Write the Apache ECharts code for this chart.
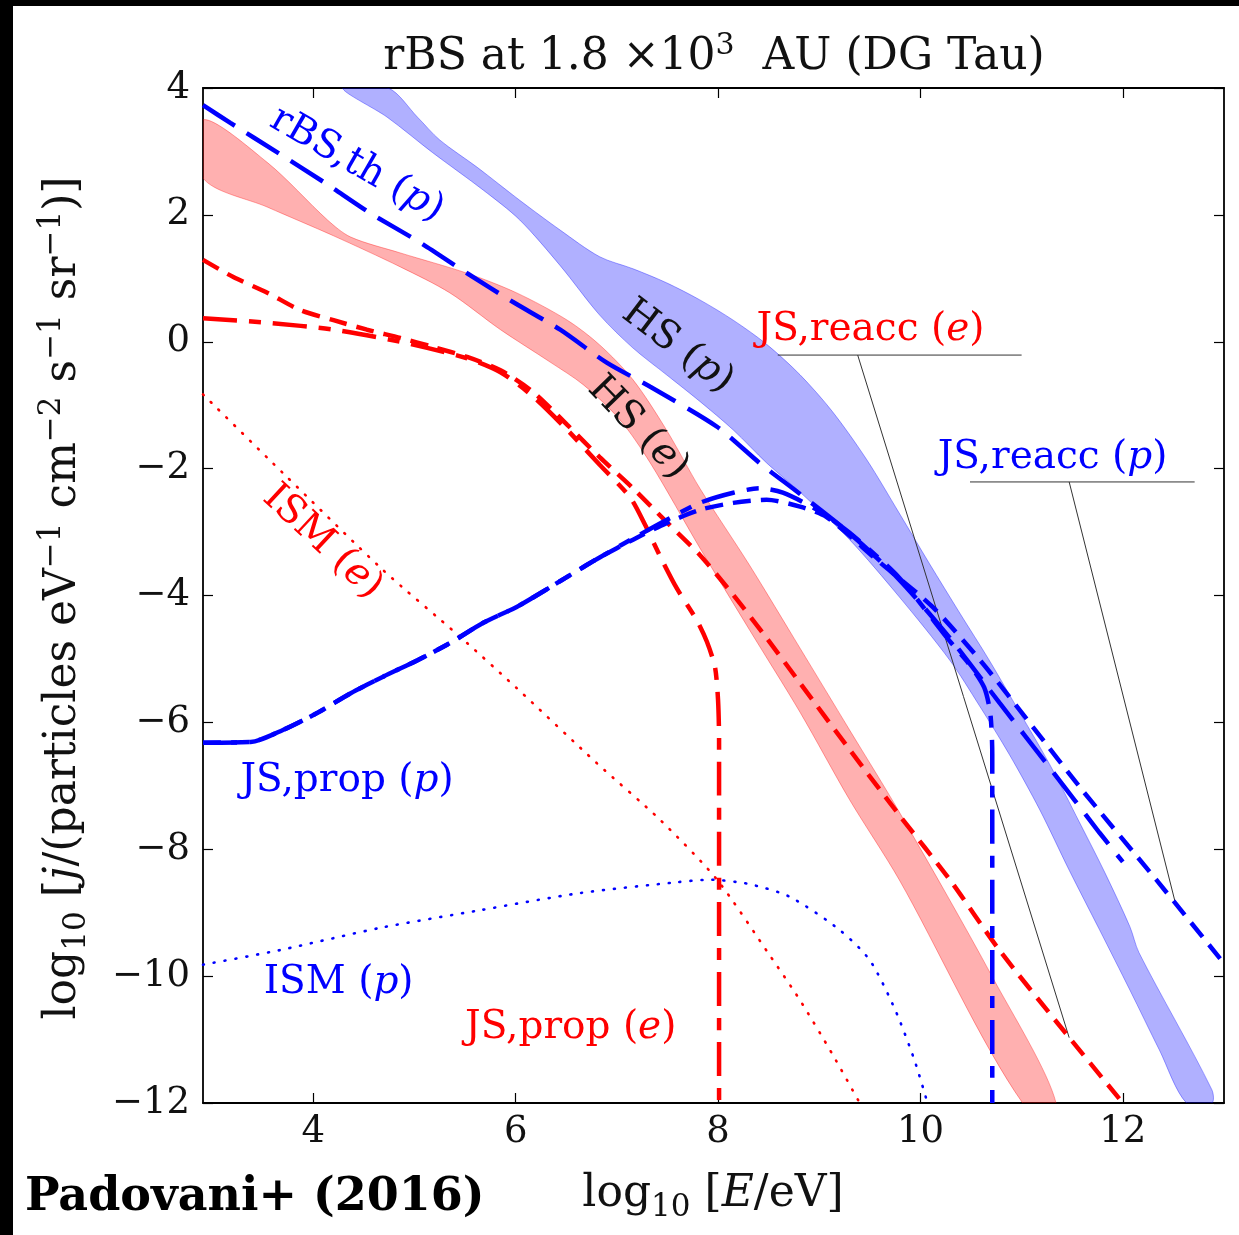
<!DOCTYPE html>
<html>
<head>
<meta charset="utf-8">
<style>
html, body { margin: 0; padding: 0; background: #fff; }
#chart { width: 1239px; height: 1235px; }
</style>
<script src="https://cdn.jsdelivr.net/npm/echarts@6/dist/echarts.min.js"></script>
</head>
<body>
<div id="chart"></div>
<script>
// x = log10(E/eV), y = log10(j)
var xMin = 2.91, xMax = 13;
var xTicks = [4, 6, 8, 10, 12];
var yTicks = [-12, -10, -8, -6, -4, -2, 0, 2, 4];

// HS bands (upper / lower edges)
var hsProtonUpper = [[4.74,4.0],[5.03,3.54],[5.25,3.18],[5.62,2.75],[6.04,2.23],[6.44,1.76],[6.83,1.34],[7.16,1.15],[7.49,0.93],[7.82,0.66],[8.15,0.34],[8.48,-0.04],[8.81,-0.52],[9.13,-1.10],[9.47,-1.86],[9.79,-2.70],[10.09,-3.50],[10.39,-4.28],[10.68,-5.02],[10.98,-5.84],[11.28,-6.67],[11.57,-7.57],[11.82,-8.36],[12.07,-9.22],[12.16,-9.63],[12.88,-11.79],[12.88,-12.0]];
var hsProtonLower = [[4.29,4.0],[4.73,3.54],[5.18,2.98],[5.68,2.39],[6.04,1.92],[6.44,1.20],[6.83,0.42],[7.16,-0.10],[7.49,-0.52],[7.82,-0.94],[8.15,-1.39],[8.48,-1.91],[8.81,-2.37],[9.30,-3.12],[9.79,-4.02],[10.29,-5.02],[10.58,-5.73],[10.88,-6.51],[11.18,-7.38],[11.47,-8.33],[11.77,-9.27],[12.07,-10.22],[12.36,-11.16],[12.63,-12.0]];
var hsElectronUpper = [[2.91,3.50],[3.55,2.82],[4.14,1.92],[4.37,1.65],[4.86,1.40],[5.52,1.08],[6.01,0.77],[6.51,0.34],[6.83,-0.05],[7.16,-0.60],[7.49,-1.39],[7.82,-2.31],[8.31,-3.52],[8.81,-4.83],[9.30,-6.12],[9.79,-7.41],[10.71,-10.01],[11.34,-12.0]];
var hsElectronLower = [[2.91,2.58],[3.55,2.12],[4.20,1.67],[4.86,1.18],[5.35,0.77],[5.85,0.19],[6.34,-0.32],[6.67,-0.68],[7.03,-1.23],[7.33,-1.91],[7.82,-3.25],[8.31,-4.54],[8.81,-5.84],[9.30,-7.22],[9.79,-8.48],[11.01,-12.0]];

// curves
var rbsThP = [[2.91,3.73],[3.18,3.45],[3.64,2.99],[4.12,2.50],[4.56,2.03],[5.06,1.56],[5.52,1.08],[5.97,0.63],[6.44,0.19],[6.90,-0.33],[7.33,-0.71],[7.99,-1.34],[8.41,-1.91],[8.81,-2.40],[9.30,-3.02],[9.79,-3.75],[10.29,-4.67],[10.78,-5.69],[11.28,-6.72],[11.77,-7.74],[12.00,-8.20]];
var jsPropP = [[2.91,-6.32],[3.38,-6.31],[3.70,-6.12],[4.04,-5.85],[4.37,-5.54],[4.69,-5.28],[5.03,-5.02],[5.35,-4.75],[5.68,-4.43],[6.01,-4.18],[6.34,-3.87],[6.67,-3.55],[6.83,-3.40],[7.16,-3.10],[7.49,-2.81],[7.82,-2.54],[8.15,-2.38],[8.41,-2.31],[8.64,-2.38],[8.98,-2.65],[9.30,-3.01],[9.79,-3.72],[10.29,-4.72],[10.50,-5.12],[10.63,-5.45],[10.69,-5.85],[10.71,-6.5],[10.71,-12.0]];
var jsReaccP = [[2.91,-6.32],[3.38,-6.31],[3.70,-6.12],[4.04,-5.85],[4.37,-5.54],[4.69,-5.28],[5.03,-5.02],[5.35,-4.75],[5.68,-4.43],[6.01,-4.18],[6.34,-3.87],[6.67,-3.55],[6.83,-3.40],[7.16,-3.12],[7.49,-2.86],[7.82,-2.65],[8.15,-2.54],[8.48,-2.49],[8.81,-2.60],[9.07,-2.76],[9.57,-3.44],[10.12,-4.18],[10.61,-5.06],[11.11,-6.07],[11.60,-7.07],[12.33,-8.48],[12.99,-9.78]];
var jsReaccE = [[2.91,1.29],[3.21,1.02],[3.55,0.77],[3.87,0.50],[4.20,0.34],[4.53,0.19],[4.86,0.06],[5.18,-0.08],[5.52,-0.24],[5.85,-0.45],[6.17,-0.79],[6.51,-1.31],[6.83,-1.82],[7.16,-2.31],[7.49,-2.84],[7.82,-3.36],[8.15,-3.99],[8.48,-4.67],[8.81,-5.38],[9.30,-6.43],[9.79,-7.46],[10.29,-8.48],[10.78,-9.59],[11.37,-10.77],[12.0,-12.0]];
var jsPropE = [[2.91,0.37],[3.55,0.30],[4.20,0.19],[4.86,0.0],[5.52,-0.26],[5.85,-0.48],[6.17,-0.86],[6.51,-1.39],[6.83,-1.94],[7.13,-2.45],[7.28,-2.89],[7.43,-3.39],[7.59,-3.88],[7.79,-4.39],[7.89,-4.73],[7.97,-5.13],[8.00,-5.65],[8.01,-6.28],[8.01,-12.0]];
var ismE = [[2.91,-0.83],[3.70,-2.07],[4.69,-3.60],[5.45,-4.65],[6.01,-5.46],[6.80,-6.64],[7.43,-7.54],[7.99,-8.48],[8.51,-9.67],[8.81,-10.38],[9.13,-11.23],[9.40,-12.0]];
var ismP = [[2.91,-9.82],[3.67,-9.59],[4.66,-9.24],[5.65,-8.96],[6.64,-8.69],[7.59,-8.52],[7.92,-8.48],[8.31,-8.55],[8.71,-8.75],[9.20,-9.27],[9.50,-9.75],[9.75,-10.53],[9.94,-11.32],[10.07,-12.0]];

// label leader lines
var reaccELine = [[8.59,-0.21],[11.0,-0.21]];
var reaccEPointer = [[9.38,-0.21],[11.47,-10.97]];
var reaccPLine = [[10.49,-2.21],[12.71,-2.21]];
var reaccPPointer = [[11.47,-2.21],[12.52,-8.85]];

var BLUE = '#0000ff', RED = '#ff0000';
var FONT = '"DejaVu Serif", "Liberation Serif", serif';
var LABEL_SIZE = 39;

var chart = echarts.init(document.getElementById('chart'));

function band(upper, lower, fill, edge) {
  return {
    type: 'custom',
    coordinateSystem: 'cartesian2d',
    data: [[xMin, -12]],
    silent: true,
    clip: true,
    z: 1,
    renderItem: function (params, api) {
      var pts = [];
      upper.forEach(function (p) { pts.push(api.coord(p)); });
      lower.slice().reverse().forEach(function (p) { pts.push(api.coord(p)); });
      return {
        type: 'polygon',
        shape: { points: pts, smooth: 0.3 },
        style: { fill: fill, stroke: edge, lineWidth: 1 }
      };
    }
  };
}

function curve(data, color, dash, width, cap) {
  return {
    type: 'line',
    data: data,
    symbol: 'none',
    smooth: 0.25,
    silent: true,
    clip: true,
    z: 3,
    lineStyle: { color: color, width: width, type: dash, cap: cap || 'butt' }
  };
}

function thin(data) {
  return {
    type: 'line', data: data, symbol: 'none', silent: true, z: 2,
    lineStyle: { color: '#333', width: 1 }
  };
}

var frameLine = { show: true, onZero: false, lineStyle: { color: '#000', width: 1.8 } };
var tickStyle = { color: '#000', width: 1.2 };

option = {
  animation: false,
  backgroundColor: '#fff',
  textStyle: { fontFamily: FONT },
  grid: { left: 203, right: 15, top: 88, bottom: 132 },
  xAxis: [
    {
      type: 'value', min: xMin, max: xMax, position: 'bottom',
      axisLine: frameLine, splitLine: { show: false },
      axisTick: { show: true, inside: true, length: 10, customValues: xTicks, lineStyle: tickStyle },
      axisLabel: { customValues: xTicks, color: '#111', fontFamily: FONT, fontSize: 37, margin: 11 }
    },
    {
      type: 'value', min: xMin, max: xMax, position: 'top',
      axisLine: frameLine, splitLine: { show: false },
      axisTick: { show: true, inside: true, length: 10, customValues: xTicks, lineStyle: tickStyle },
      axisLabel: { show: false }
    }
  ],
  yAxis: [
    {
      type: 'value', min: -12, max: 4, interval: 2, position: 'left',
      axisLine: frameLine, splitLine: { show: false },
      axisTick: { show: true, inside: true, length: 10, lineStyle: tickStyle },
      axisLabel: {
        color: '#111', fontFamily: FONT, fontSize: 37, margin: 13,
        formatter: function (v) { return String(v).replace('-', '\u2212'); }
      }
    },
    {
      type: 'value', min: -12, max: 4, interval: 2, position: 'right',
      axisLine: frameLine, splitLine: { show: false },
      axisTick: { show: true, inside: true, length: 10, lineStyle: tickStyle },
      axisLabel: { show: false }
    }
  ],
  series: [
    band(hsProtonUpper, hsProtonLower, 'rgba(0,0,255,0.31)', 'rgba(0,0,255,0.35)'),
    band(hsElectronUpper, hsElectronLower, 'rgba(255,0,0,0.31)', 'rgba(255,0,0,0.35)'),
    thin(reaccELine), thin(reaccEPointer), thin(reaccPLine), thin(reaccPPointer),
    curve(ismE, RED, [1, 10], 2.6, 'round'),
    curve(ismP, BLUE, [1, 10], 2.6, 'round'),
    curve(jsReaccE, RED, [18, 10], 4.5),
    curve(jsPropE, RED, [34, 12, 12, 12], 4.5),
    curve(rbsThP, BLUE, [38, 14], 4.5),
    curve(jsReaccP, BLUE, [18, 10], 4.5),
    curve(jsPropP, BLUE, [34, 12, 12, 12], 4.5)
  ]
};

option && chart.setOption(option);

// text labels placed at data positions
var curveLabels = [
  { text: 'rBS,th ({it|p})', at: [4.43, 2.79], rot: -30, color: BLUE, align: 'center' },
  { text: 'HS ({it|p})', at: [7.60, -0.08], rot: -37, color: '#111', align: 'center' },
  { text: 'HS ({it|e})', at: [7.21, -1.36], rot: -46, color: '#111', align: 'center' },
  { text: 'ISM ({it|e})', at: [4.09, -3.16], rot: -43, color: RED, align: 'center' },
  { text: 'JS,reacc ({it|e})', at: [8.38, 0.19], rot: 0, color: RED, align: 'left' },
  { text: 'JS,reacc ({it|p})', at: [10.17, -1.83], rot: 0, color: BLUE, align: 'left' },
  { text: 'JS,prop ({it|p})', at: [3.28, -6.92], rot: 0, color: BLUE, align: 'left' },
  { text: 'ISM ({it|p})', at: [3.51, -10.11], rot: 0, color: BLUE, align: 'left' },
  { text: 'JS,prop ({it|e})', at: [5.50, -10.82], rot: 0, color: RED, align: 'left' }
];

var graphics = [
  { type: 'rect', shape: { x: 0, y: 0, width: 13, height: 1235 }, style: { fill: '#000' }, silent: true },
  { type: 'rect', shape: { x: 0, y: 0, width: 1239, height: 6 }, style: { fill: '#000' }, silent: true }
];

curveLabels.forEach(function (l) {
  var p = chart.convertToPixel({ gridIndex: 0 }, l.at);
  graphics.push({
    type: 'text', x: p[0], y: p[1], rotation: l.rot * Math.PI / 180, z: 10, silent: true,
    style: {
      text: l.text, fill: l.color, fontFamily: FONT, fontSize: LABEL_SIZE,
      align: l.align, verticalAlign: 'middle',
      rich: { it: { fontStyle: 'italic', fontFamily: FONT, fontSize: LABEL_SIZE, fill: l.color } }
    }
  });
});

// title
graphics.push({
  type: 'text', x: 714, y: 58, z: 10, silent: true,
  style: {
    text: '{n|rBS at 1.8 \u00d710}{sup|3}{n|  AU (DG Tau)}',
    align: 'center', verticalAlign: 'middle',
    rich: {
      n: { fontFamily: FONT, fontSize: 44, lineHeight: 54, fill: '#111' },
      sup: { fontFamily: FONT, fontSize: 30, lineHeight: 30, verticalAlign: 'top', fill: '#111' }
    }
  }
});

// x axis name
graphics.push({
  type: 'text', x: 713, y: 1195, z: 10, silent: true,
  style: {
    text: '{n|log}{sub|10}{n| [}{it|E}{n|/eV]}',
    align: 'center', verticalAlign: 'middle',
    rich: {
      n: { fontFamily: FONT, fontSize: 44, lineHeight: 56, fill: '#111' },
      it: { fontFamily: FONT, fontStyle: 'italic', fontSize: 44, lineHeight: 56, fill: '#111' },
      sub: { fontFamily: FONT, fontSize: 31, lineHeight: 32, verticalAlign: 'bottom', fill: '#111' }
    }
  }
});

// y axis name
graphics.push({
  type: 'text', x: 64, y: 598, rotation: Math.PI / 2, z: 10, silent: true,
  style: {
    text: '{n|log}{sub|10}{n| [}{it|j}{n|/(particles eV}{sup|\u22121}{n| cm}{sup|\u22122}{n| s}{sup|\u22121}{n| sr}{sup|\u22121}{n|)]}',
    align: 'center', verticalAlign: 'middle',
    rich: {
      n: { fontFamily: FONT, fontSize: 44, lineHeight: 56, fill: '#111' },
      it: { fontFamily: FONT, fontStyle: 'italic', fontSize: 44, lineHeight: 56, fill: '#111' },
      sub: { fontFamily: FONT, fontSize: 31, lineHeight: 32, verticalAlign: 'bottom', fill: '#111' },
      sup: { fontFamily: FONT, fontSize: 31, lineHeight: 30, verticalAlign: 'top', fill: '#111' }
    }
  }
});

// credit
graphics.push({
  type: 'text', x: 25, y: 1198, z: 10, silent: true,
  style: {
    text: 'Padovani+ (2016)', fill: '#000', fontFamily: FONT, fontWeight: 'bold', fontSize: 46,
    align: 'left', verticalAlign: 'middle'
  }
});

chart.setOption({ graphic: graphics });

window.addEventListener('resize', function () {
  chart.resize();
});
</script>
</body>
</html>
